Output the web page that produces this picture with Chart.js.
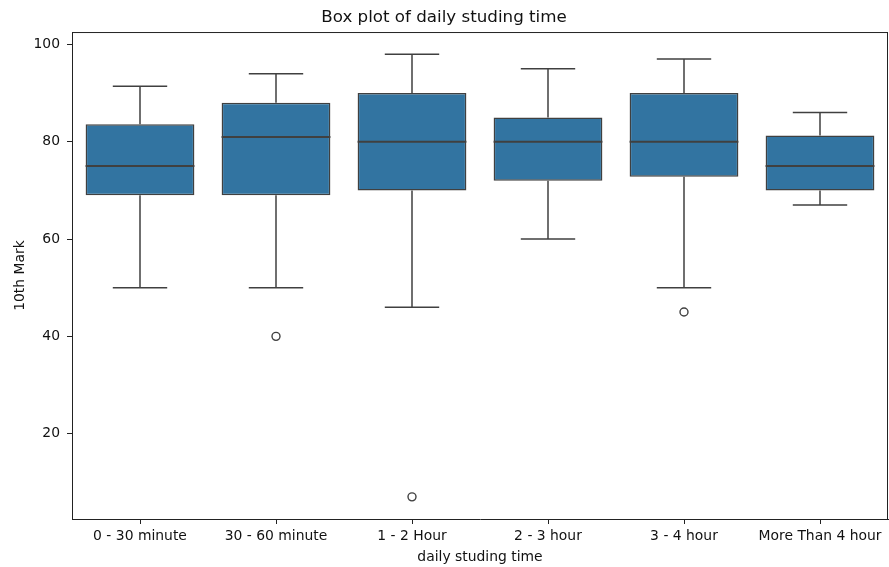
<!DOCTYPE html>
<html>
<head>
<meta charset="utf-8">
<title>Box plot of daily studing time</title>
<script src="https://cdn.jsdelivr.net/npm/chart.js@4/dist/chart.umd.min.js"></script>
<style>
  html, body { margin: 0; padding: 0; background: #fff; }
  #wrap { width: 889px; height: 567px; position: relative; }
</style>
</head>
<body>
<div id="wrap"><canvas id="chart"></canvas></div>
<script>
// Study-time groups and the five-number summary of 10th marks in each
const categories = ['0 - 30 minute', '30 - 60 minute', '1 - 2 Hour', '2 - 3 hour', '3 - 4 hour', 'More Than 4 hour'];
const whiskerLow  = [50, 50, 46, 60, 50, 67];
const quartile1   = [69, 69, 70, 72, 72.8, 70];
const medians     = [75, 81, 80, 80, 80, 75];
const quartile3   = [83.6, 88, 90, 85, 90, 81.3];
const whiskerHigh = [91.4, 94, 98, 95, 97, 86];
// Points beyond the whiskers
const outlierGroups = ['30 - 60 minute', '1 - 2 Hour', '3 - 4 hour'];
const outlierValues = [40, 7, 45];
// Value axis
const yTickValues = [20, 40, 60, 80, 100];
const yMin = 2.45;
const yMax = 102.55;

const BOX_FILL = '#3274a1';
const LINE = '#404040';
const TEXT = '#111111';
const FONT = 'DejaVu Sans';

// Whiskers, caps and median lines, placed through the chart scales
const boxDetails = {
  id: 'boxDetails',
  afterDatasetsDraw(chart) {
    const meta = chart.getDatasetMeta(0);
    const y = chart.scales.y;
    const ctx = chart.ctx;
    ctx.save();
    ctx.strokeStyle = LINE;
    ctx.lineCap = 'butt';
    meta.data.forEach((bar, i) => {
      const cx = bar.x;
      const half = bar.width / 2;
      const capHalf = half / 2;
      const pLow = y.getPixelForValue(whiskerLow[i]);
      const pQ1 = y.getPixelForValue(quartile1[i]);
      const pMed = y.getPixelForValue(medians[i]);
      const pQ3 = y.getPixelForValue(quartile3[i]);
      const pHigh = y.getPixelForValue(whiskerHigh[i]);
      ctx.lineWidth = 1.5;
      ctx.beginPath();
      // upper whisker + cap
      ctx.moveTo(cx, pQ3); ctx.lineTo(cx, pHigh);
      ctx.moveTo(cx - capHalf, pHigh); ctx.lineTo(cx + capHalf, pHigh);
      // lower whisker + cap
      ctx.moveTo(cx, pQ1); ctx.lineTo(cx, pLow);
      ctx.moveTo(cx - capHalf, pLow); ctx.lineTo(cx + capHalf, pLow);
      ctx.stroke();
      // median
      ctx.lineWidth = 2;
      ctx.beginPath();
      ctx.moveTo(cx - half, pMed); ctx.lineTo(cx + half, pMed);
      ctx.stroke();
    });
    ctx.restore();
  }
};

// Top and right spines of the plot frame
const frame = {
  id: 'frame',
  afterDraw(chart) {
    const a = chart.chartArea;
    const ctx = chart.ctx;
    ctx.save();
    ctx.strokeStyle = '#222';
    ctx.lineWidth = 1;
    ctx.beginPath();
    ctx.moveTo(a.left, a.top + 0.5); ctx.lineTo(a.right, a.top + 0.5);
    ctx.moveTo(a.right - 0.5, a.top); ctx.lineTo(a.right - 0.5, a.bottom);
    ctx.stroke();
    ctx.restore();
  }
};

new Chart(document.getElementById('chart'), {
  data: {
    labels: categories,
    datasets: [
      {
        type: 'bar',
        data: categories.map((_, i) => [quartile1[i], quartile3[i]]),
        backgroundColor: BOX_FILL,
        borderColor: LINE,
        borderWidth: 1.5,
        borderSkipped: false,
        barPercentage: 0.8,
        categoryPercentage: 1.0,
        order: 2
      },
      {
        type: 'line',
        data: outlierGroups.map((g, i) => ({ x: g, y: outlierValues[i] })),
        showLine: false,
        pointStyle: 'circle',
        pointRadius: 4,
        pointBorderWidth: 1.4,
        pointBorderColor: LINE,
        pointBackgroundColor: 'rgba(0,0,0,0)',
        order: 1
      }
    ]
  },
  options: {
    responsive: true,
    maintainAspectRatio: false,
    devicePixelRatio: 1,
    animation: false,
    layout: { autoPadding: false, padding: { left: 0, right: 1, top: 0, bottom: 0 } },
    plugins: {
      legend: { display: false },
      tooltip: { enabled: false },
      title: {
        display: true,
        text: 'Box plot of daily studing time',
        color: TEXT,
        font: { family: FONT, size: 16.7, weight: 'normal', lineHeight: 1.2 },
        padding: { top: 7.5, bottom: 4.5 }
      }
    },
    scales: {
      x: {
        type: 'category',
        offset: true,
        grid: { display: true, offset: false, drawOnChartArea: false, tickLength: 5, color: '#222', tickWidth: 1 },
        border: { display: true, color: '#222', width: 1 },
        ticks: { color: TEXT, font: { family: FONT, size: 13.9 }, padding: 4, maxRotation: 0, autoSkip: false },
        title: {
          display: true,
          text: 'daily studing time',
          color: TEXT,
          font: { family: FONT, size: 13.9 },
          padding: { top: 0, bottom: 1 }
        },
        afterFit(scale) { scale.height = 48; scale.paddingLeft = 0; scale.paddingRight = 0; }
      },
      y: {
        type: 'linear',
        min: yMin,
        max: yMax,
        grid: { display: true, drawOnChartArea: false, tickLength: 5, color: '#222', tickWidth: 1 },
        border: { display: true, color: '#222', width: 1 },
        ticks: { color: TEXT, font: { family: FONT, size: 13.9 }, padding: 7 },
        afterBuildTicks(scale) { scale.ticks = yTickValues.map(v => ({ value: v })); },
        title: {
          display: true,
          text: '10th Mark',
          color: TEXT,
          font: { family: FONT, size: 13.9 },
          padding: { top: 12, bottom: 0 }
        },
        afterFit(scale) { scale.width = 72; scale.paddingTop = 0; scale.paddingBottom = 0; }
      }
    }
  },
  plugins: [boxDetails, frame]
});
</script>
</body>
</html>
